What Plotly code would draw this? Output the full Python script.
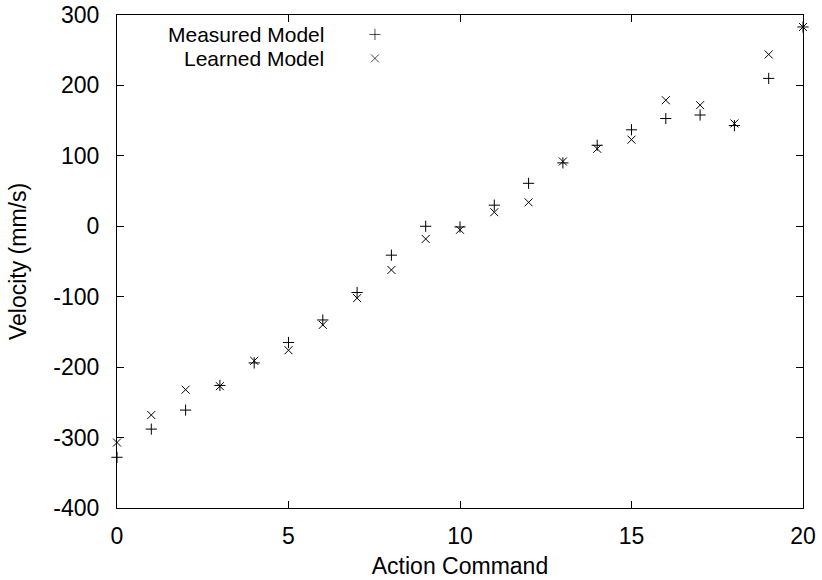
import plotly.graph_objects as go

action = list(range(0, 21))
measured = [-328, -288, -261, -226, -194, -165, -133, -94, -41, 0, -1, 30, 61, 90, 115, 137, 153, 158, 143, 210, 283]
learned = [-307, -268, -232, -227, -191, -176, -140, -102, -62, -18, -5, 20, 34, 92, 110, 123, 179, 172, 146, 244, 283]
series_names = ["Measured Model", "Learned Model"]
x_ticks = [0, 5, 10, 15, 20]
y_ticks = [-400, -300, -200, -100, 0, 100, 200, 300]
y_ticktext = [str(v) for v in y_ticks]  # plain hyphen-minus like the original

FONT = "Liberation Sans, Arial, Helvetica, sans-serif"
FS = 23
LEG_FS = 21

fig = go.Figure()
fig.add_trace(go.Scatter(x=action, y=measured, mode="markers", name=series_names[0],
                         marker=dict(symbol="cross-thin-open", size=8, color="black",
                                     line=dict(width=1, color="black")),
                         showlegend=False, cliponaxis=False))
fig.add_trace(go.Scatter(x=action, y=learned, mode="markers", name=series_names[1],
                         marker=dict(symbol="x-thin-open", size=8, color="black",
                                     line=dict(width=1, color="black")),
                         showlegend=False, cliponaxis=False))

# legend key samples (gnuplot style: text right-aligned, sample to its right)
key_y = [0.9605, 0.912]
fig.add_trace(go.Scatter(x=[0.376, 0.376], y=key_y, xaxis="x2", yaxis="y2", mode="markers",
                         marker=dict(symbol=["cross-thin-open", "x-thin-open"], size=[8, 8],
                                     color="black", line=dict(width=1, color="black")),
                         showlegend=False, hoverinfo="skip"))
for name, ky in zip(series_names, key_y):
    fig.add_annotation(x=0.303, y=ky, xref="paper", yref="paper", text=name,
                       showarrow=False, xanchor="right", yanchor="middle",
                       borderpad=0,
                       font=dict(family=FONT, size=LEG_FS, color="black"))

axis_common = dict(showline=True, linecolor="black", linewidth=1, mirror="ticks",
                   ticks="inside", ticklen=7, tickwidth=1, tickcolor="black",
                   showgrid=False, zeroline=False, automargin=False,
                   tickfont=dict(family=FONT, size=FS, color="black"))

fig.update_layout(
    width=822, height=580,
    margin=dict(l=117, r=19, t=15, b=72),
    paper_bgcolor="white", plot_bgcolor="white",
    font=dict(family=FONT, size=FS, color="black"),
    xaxis=dict(range=[0, 20], tickvals=x_ticks, ticklabelstandoff=7,
               title=dict(text="Action Command", font=dict(family=FONT, size=FS), standoff=10),
               **axis_common),
    yaxis=dict(range=[-400, 300], tickvals=y_ticks, ticktext=y_ticktext, ticklabelstandoff=12,
               title=dict(text="Velocity (mm/s)", font=dict(family=FONT, size=FS), standoff=20),
               **axis_common),
    xaxis2=dict(domain=[0, 1], range=[0, 1], overlaying="x", visible=False,
                anchor="free", position=0),
    yaxis2=dict(domain=[0, 1], range=[0, 1], overlaying="y", visible=False,
                anchor="free", position=0),
)

fig.write_html("out.html")
